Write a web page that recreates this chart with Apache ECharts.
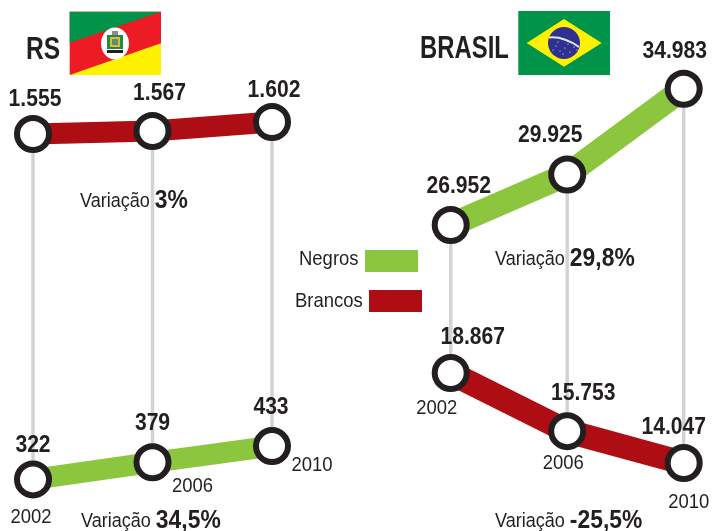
<!DOCTYPE html>
<html>
<head>
<meta charset="utf-8">
<style>
  html, body { margin: 0; padding: 0; background: #fff; }
  #main { width: 712px; height: 531px; }
</style>
<script src="https://cdn.jsdelivr.net/npm/echarts@6/dist/echarts.min.js"></script>
</head>
<body>
<div id="main"></div>
<script>
const years = [2002, 2006, 2010]
const rsBrancos = [1555, 1567, 1602]
const rsNegros = [322, 379, 433]
const brNegros = [26952, 29925, 34983]
const brBrancos = [18867, 15753, 14047]

const GREEN = '#8CC63F'
const RED = '#AE0D13'
const INK = '#231F20'
const GRAY = '#D1D3D4'
const FONT = '"Liberation Sans", sans-serif'
// the reference uses a condensed face, so text is squeezed horizontally
const SQUEEZE = 0.88
const SQUEEZE_TITLE = 0.77

const chart = echarts.init(document.getElementById('main'), null, { renderer: 'canvas' })

// numbers are written with a dot as thousands separator
const fmt = (v) => String(v).replace(/\B(?=(\d{3})+$)/g, '.')

function lineSeries (name, color, width, xIndex, yIndex, values) {
  return {
    name,
    type: 'line',
    xAxisIndex: xIndex,
    yAxisIndex: yIndex,
    z: 3,
    clip: false,
    animation: false,
    symbol: 'circle',
    symbolSize: 32,
    showAllSymbol: true,
    lineStyle: { color, width, cap: 'butt', join: 'miter' },
    itemStyle: { color: '#fff', borderColor: INK, borderWidth: 6, opacity: 1 },
    emphasis: { disabled: true },
    data: values.map((v, i) => [years[i], v])
  }
}

// value labels as custom text so they can be squeezed like the reference font
function labelSeries (xIndex, yIndex, values, offsets) {
  return {
    type: 'custom',
    xAxisIndex: xIndex,
    yAxisIndex: yIndex,
    z: 4,
    clip: false,
    animation: false,
    silent: true,
    encode: { x: 0, y: 1 },
    data: values.map((v, i) => [years[i], v, i]),
    renderItem (params, api) {
      const p = api.coord([api.value(0), api.value(1)])
      const off = offsets[api.value(2)]
      return {
        type: 'text',
        x: p[0] + off[0],
        y: p[1] + off[1],
        scaleX: SQUEEZE,
        style: {
          text: fmt(api.value(1)),
          fontFamily: FONT,
          fontWeight: 'bold',
          fontSize: 24,
          fill: INK,
          align: 'center',
          verticalAlign: 'middle'
        }
      }
    }
  }
}

// gray vertical between the two series of a panel, with the year under it
function connector (xIndex, topAxis, bottomAxis, top, bottom, yearOffsets) {
  return {
    type: 'custom',
    xAxisIndex: xIndex,
    yAxisIndex: topAxis,
    z: 1,
    clip: false,
    animation: false,
    silent: true,
    encode: { x: 0, y: 1 },
    data: years.map((y, i) => [y, top[i], bottom[i], i]),
    renderItem (params, api) {
      const p = api.coord([api.value(0), api.value(1)])
      const yBottom = chart.convertToPixel({ yAxisIndex: bottomAxis }, api.value(2))
      const off = yearOffsets[api.value(3)]
      return {
        type: 'group',
        children: [{
          type: 'line',
          shape: { x1: p[0], y1: p[1], x2: p[0], y2: yBottom },
          style: { stroke: GRAY, lineWidth: 3.5 }
        }, {
          type: 'text',
          x: p[0] + off[0],
          y: yBottom + off[1],
          scaleX: SQUEEZE,
          style: {
            text: String(api.value(0)),
            fontFamily: FONT,
            fontSize: 21,
            fill: INK,
            align: 'center',
            verticalAlign: 'middle'
          }
        }]
      }
    }
  }
}

function hiddenY (gridIndex, min, max) {
  return { type: 'value', gridIndex, min, max, show: false, splitLine: { show: false } }
}

function hiddenX (gridIndex) {
  return { type: 'value', gridIndex, min: 2002, max: 2010, show: false, splitLine: { show: false } }
}

function text (x, y, str, size, bold, squeeze) {
  return {
    type: 'text',
    x,
    y,
    z: 10,
    scaleX: squeeze,
    style: {
      text: str,
      fontFamily: FONT,
      fontSize: size,
      fontWeight: bold ? 'bold' : 'normal',
      fill: INK,
      align: 'left',
      verticalAlign: 'middle'
    }
  }
}

function variacao (x, y, value) {
  return {
    type: 'text',
    x,
    y,
    z: 10,
    scaleX: SQUEEZE,
    style: {
      text: '{a|Variação }{b|' + value + '}',
      fontFamily: FONT,
      verticalAlign: 'middle',
      rich: {
        a: { fontFamily: FONT, fontSize: 20.5, fill: INK },
        b: { fontFamily: FONT, fontSize: 26, fontWeight: 'bold', fill: INK }
      }
    }
  }
}

function poly (points, fill) {
  return { type: 'polygon', shape: { points }, style: { fill } }
}

function rect (x, y, width, height, fill) {
  return { type: 'rect', shape: { x, y, width, height }, style: { fill } }
}

const rsFlag = [
  rect(69.7, 11.7, 91.3, 63.3, '#ED1C24'),
  poly([[69.7, 11.7], [161, 11.7], [69.7, 42.7]], '#00934A'),
  poly([[69.7, 75], [161, 43.3], [161, 75]], '#FFF200'),
  { type: 'ellipse', shape: { cx: 115, cy: 43.5, rx: 14, ry: 16 }, style: { fill: '#fff' } },
  rect(107, 35, 16, 14, '#1E8A4C'),
  rect(110, 37, 10, 10, '#E8B923'),
  rect(112, 39, 6, 6, '#5A8F7B'),
  rect(107, 50, 16, 3, '#231F20'),
  rect(112, 31, 6, 4, '#8A8C8E')
]

const brStars = [[556, 46], [560, 51], [565, 48], [570, 52], [574, 47], [553, 50], [563, 54], [568, 44], [577, 50], [558, 42]]
const brFlag = [
  rect(518.3, 11, 91.7, 64, '#00934A'),
  poly([[526.7, 43], [564, 19], [601.7, 43], [564, 66.7]], '#FFF200'),
  { type: 'circle', shape: { cx: 564, cy: 43, r: 16 }, style: { fill: '#2E3192' } },
  {
    type: 'bezierCurve',
    shape: { x1: 549, y1: 37.5, cpx1: 563, cpy1: 36, x2: 579, y2: 47 },
    style: { fill: 'none', stroke: '#E6E7E8', lineWidth: 2 }
  }
].concat(brStars.map((s) => ({
  type: 'circle',
  shape: { cx: s[0], cy: s[1], r: 0.6 },
  style: { fill: '#fff' }
})))

const option = {
  backgroundColor: '#fff',
  animation: false,
  tooltip: { show: false },
  legend: { show: false },
  grid: [
    { left: 33, width: 239, top: 0, height: 531 },
    { left: 450.7, width: 233, top: 0, height: 531 }
  ],
  xAxis: [hiddenX(0), hiddenX(1)],
  yAxis: [
    hiddenY(0, 0, 2080),
    hiddenY(0, 150, 1920),
    hiddenY(1, 8920, 40210),
    hiddenY(1, 10405, 38845)
  ],
  series: [
    connector(0, 0, 1, rsBrancos, rsNegros, [[-2, 38], [40, 24], [40, 19]]),
    connector(1, 2, 3, brNegros, brBrancos, [[-14, 35], [-4, 32], [5, 39]]),
    lineSeries('Brancos RS', RED, 21, 0, 0, rsBrancos),
    lineSeries('Negros RS', GREEN, 21, 0, 1, rsNegros),
    lineSeries('Negros Brasil', GREEN, 24, 1, 2, brNegros),
    lineSeries('Brancos Brasil', RED, 24, 1, 3, brBrancos),
    labelSeries(0, 0, rsBrancos, [[2, -35], [7, -38], [2, -32]]),
    labelSeries(0, 1, rsNegros, [[0, -34], [0, -39], [-1, -39]]),
    labelSeries(1, 2, brNegros, [[8, -39], [-17, -39], [-9, -37]]),
    labelSeries(1, 3, brBrancos, [[22, -36], [16, -38], [-10, -36]])
  ],
  graphic: {
    elements: [
      text(26, 50, 'RS', 32, true, SQUEEZE_TITLE),
      text(420, 49, 'BRASIL', 31, true, SQUEEZE_TITLE),
      text(299, 259, 'Negros', 21, false, SQUEEZE),
      rect(365, 250, 53, 22, GREEN),
      text(295, 301, 'Brancos', 21, false, SQUEEZE),
      rect(369, 290, 53, 22, RED),
      variacao(80, 201, '3%'),
      variacao(81, 521, '34,5%'),
      variacao(495, 259, '29,8%'),
      variacao(495, 521, '-25,5%')
    ].concat(rsFlag, brFlag)
  }
}

chart.setOption(option)
</script>
</body>
</html>
